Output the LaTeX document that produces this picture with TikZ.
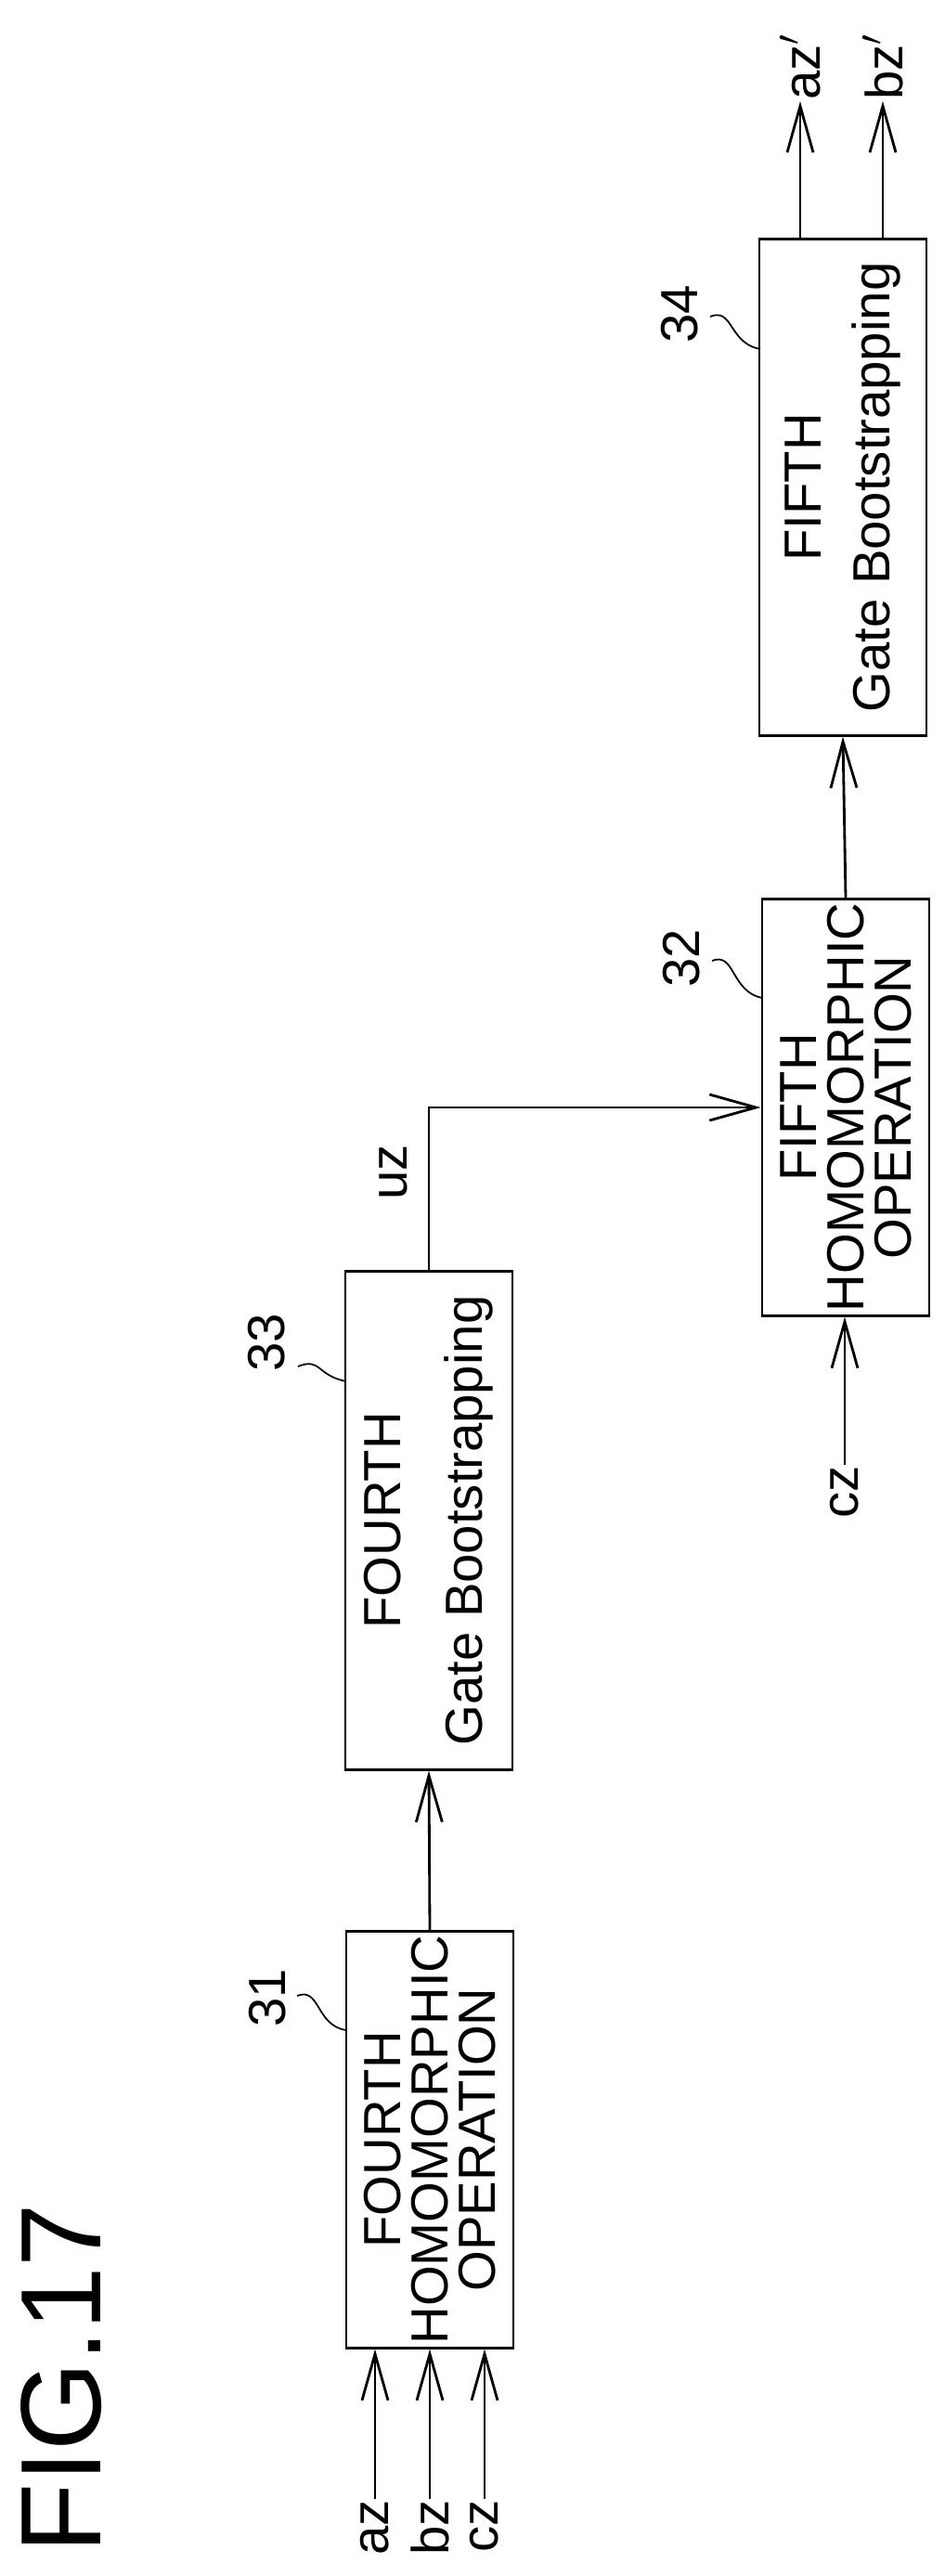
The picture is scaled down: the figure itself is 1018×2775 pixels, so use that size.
\documentclass[tikz,border=0pt]{standalone}
\usepackage{fontspec}
\setmainfont{Liberation Sans}
\usetikzlibrary{arrows.meta}

\begin{document}
\begin{tikzpicture}[x=0.01cm,y=-0.01cm,line width=0.8pt]
	\tikzstyle{every node}+=[inner sep=0pt]
	\tikzstyle{blk}=[draw,rotate=90,minimum height=1.8cm,align=center,font=\fontsize{16}{14.5}\selectfont]
	\tikzstyle{lbl}=[rotate=90,font=\fontsize{16}{18}\selectfont]
	\tikzstyle{arr}=[-{Straight Barb[length=5mm,width=2.8mm]}]
	\useasboundingbox (0,0) rectangle (1018,2775);
	\node [rotate=90,font=\fontsize{35}{40}\selectfont] (fig) at (66,2562) {FIG.17};
	% blocks
	\node [blk,minimum width=4.48cm] (op4) at (463,2305) {FOURTH\\HOMOMORPHIC\\OPERATION};
	\node [blk,minimum width=5.36cm,font=\fontsize{16}{25}\selectfont] (gb4) at (462,1638) {FOURTH\\Gate Bootstrapping};
	\node [blk,minimum width=4.48cm] (op5) at (911,1193) {FIFTH\\HOMOMORPHIC\\OPERATION};
	\node [blk,minimum width=5.34cm,font=\fontsize{16}{21}\selectfont] (gb5) at (908,525) {FIFTH\\Gate Bootstrapping};
	% reference numerals
	\node [lbl] (n31) at (288,2152) {31};
	\node [lbl] (n33) at (287,1446) {33};
	\node [lbl] (n32) at (734,1032) {32};
	\node [lbl] (n34) at (732,338) {34};
	\coordinate (e31) at (373,2187);
	\coordinate (e33) at (373,1488);
	\coordinate (e32) at (821,1075);
	\coordinate (e34) at (819,376);
	\draw [line width=0.5pt] (320,2150) .. controls (345,2140) and (340,2182) .. (e31);
	\draw [line width=0.5pt] (321,1472) .. controls (346,1462) and (341,1482) .. (e33);
	\draw [line width=0.5pt] (767,1035) .. controls (792,1025) and (787,1068) .. (e32);
	\draw [line width=0.5pt] (765,341) .. controls (790,331) and (785,370) .. (e34);
	% inputs
	\node [lbl,anchor=east] (az) at (404,2692) {az};
	\node [lbl,anchor=east] (bz) at (463,2692) {bz};
	\node [lbl,anchor=east] (cz) at (522,2692) {cz};
	\node [lbl,anchor=east] (cz2) at (910,1578) {cz};
	\draw [arr] (az.east) -- (az.east |- op4.west);
	\draw [arr] (bz.east) -- (bz.east |- op4.west);
	\draw [arr] (cz.east) -- (cz.east |- op4.west);
	\draw [arr] (cz2.east) -- (cz2.east |- op5.west);
	% flow
	\draw [arr] (op4.east) -- (gb4.west);
	\draw [arr] (gb4.east) |- (op5.north) node [pos=0.3,lbl,anchor=south,yshift=6] {uz};
	\draw [arr] (op5.east) -- (gb5.west);
	% outputs
	\node [lbl,anchor=west] (azo) at (862,109) {az$'$};
	\node [lbl,anchor=west] (bzo) at (951,109) {bz$'$};
	\draw [arr] (azo.west |- gb5.east) -- (azo.west);
	\draw [arr] (bzo.west |- gb5.east) -- (bzo.west);
\end{tikzpicture}
\end{document}
